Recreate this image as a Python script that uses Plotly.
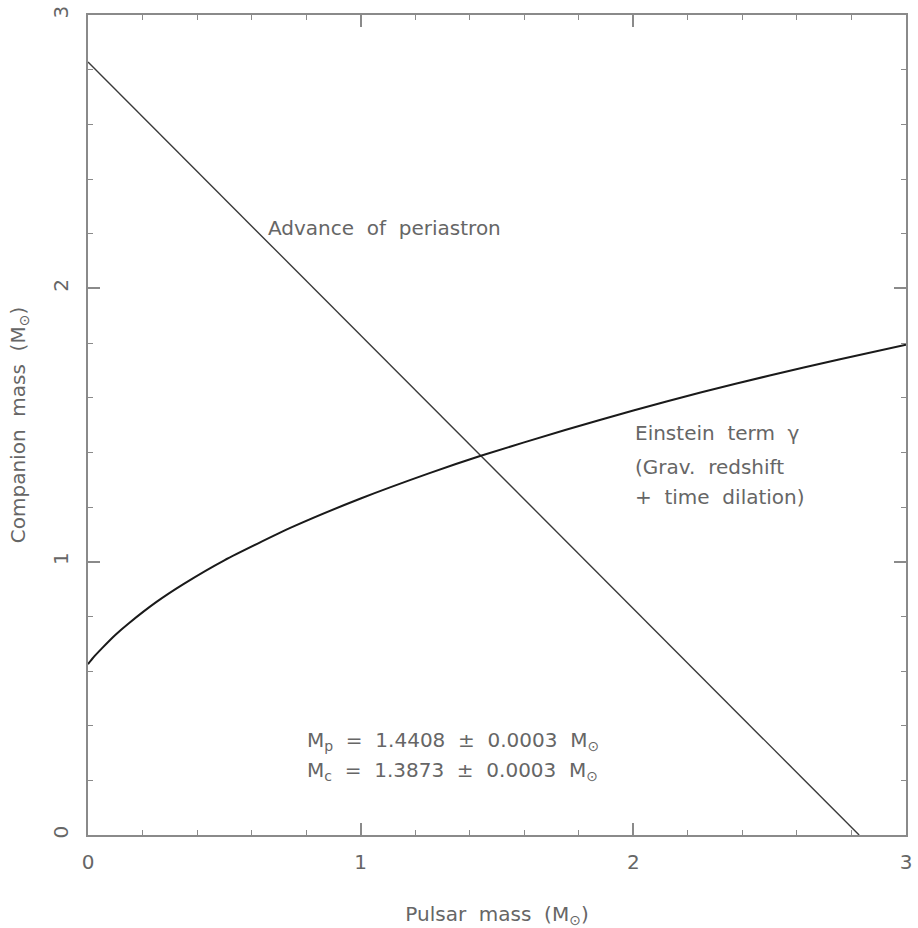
import plotly.graph_objects as go

# Einstein term (gamma) curve
gamma_mp = [0.0, 0.02, 0.05, 0.10, 0.15, 0.25, 0.35, 0.50, 0.75, 1.00, 1.25, 1.4408, 1.75, 2.00, 2.25, 2.50, 2.75, 3.00]
gamma_mc = [0.625, 0.650, 0.682, 0.732, 0.775, 0.852, 0.918, 1.005, 1.127, 1.231, 1.323, 1.3873, 1.482, 1.553, 1.620, 1.681, 1.739, 1.794]

# Advance of periastron line (total mass constraint)
peri_mp = [0.0, 2.8281]
peri_mc = [2.8281, 0.0]

x_ticks = [0, 1, 2, 3]
y_ticks = [0, 1, 2, 3]

TXT = "#666666"
AX = "#8a8a8a"
FONT = "DejaVu Sans"
SP = "&nbsp;"

fig = go.Figure()
fig.add_trace(go.Scatter(x=peri_mp, y=peri_mc, mode="lines",
                         line=dict(color="#3a3a3a", width=1.4), showlegend=False))
fig.add_trace(go.Scatter(x=gamma_mp, y=gamma_mc, mode="lines",
                         line=dict(color="#1a1a1a", width=2, shape="spline", smoothing=0.6),
                         showlegend=False))

ann = [
    dict(x=0.652, y=2.22, text=f"Advance{SP} of{SP} periastron"),
    dict(x=2.0, y=1.47, text=f"Einstein{SP} term{SP} γ"),
    dict(x=2.0, y=1.345, text=f"(Grav.{SP} redshift"),
    dict(x=2.0, y=1.235, text=f"+{SP} time{SP} dilation)"),
    dict(x=0.795, y=0.345, text=f"M<sub>p</sub>{SP} ={SP} 1.4408{SP} ±{SP} 0.0003{SP} M<sub>⊙</sub>"),
    dict(x=0.795, y=0.235, text=f"M<sub>c</sub>{SP} ={SP} 1.3873{SP} ±{SP} 0.0003{SP} M<sub>⊙</sub>"),
]
for a in ann:
    fig.add_annotation(x=a["x"], y=a["y"], text=a["text"], xref="x", yref="y",
                       xanchor="left", yanchor="middle", showarrow=False,
                       font=dict(family=FONT, size=20, color=TXT))

axis_common = dict(
    showgrid=False, zeroline=False, showline=True, linecolor=AX, linewidth=1.5,
    mirror="allticks", ticks="inside", ticklen=12, tickwidth=1.5, tickcolor=AX,
    tickfont=dict(family=FONT, size=20, color=TXT),
    minor=dict(ticks="inside", ticklen=5, tickwidth=1, tickcolor=AX, dtick=0.2, showgrid=False),
)

fig.update_xaxes(range=[0, 3], tickvals=x_ticks, ticktext=[str(v) for v in x_ticks],
                 title=dict(text=f"Pulsar{SP} mass{SP} (M<sub>⊙</sub>)", standoff=34,
                            font=dict(family=FONT, size=20, color=TXT)),
                 ticklabelstandoff=8, **axis_common)
fig.update_yaxes(range=[0, 3], tickvals=y_ticks, ticktext=[str(v) for v in y_ticks],
                 tickangle=-90,
                 title=dict(text=f"Companion{SP} mass{SP} (M<sub>⊙</sub>)", standoff=18,
                            font=dict(family=FONT, size=20, color=TXT)),
                 ticklabelstandoff=10, **axis_common)

fig.update_layout(
    width=918, height=928,
    margin=dict(l=88, r=6, t=13, b=90),
    plot_bgcolor="white", paper_bgcolor="white",
    showlegend=False,
)

fig.write_html("out.html")
